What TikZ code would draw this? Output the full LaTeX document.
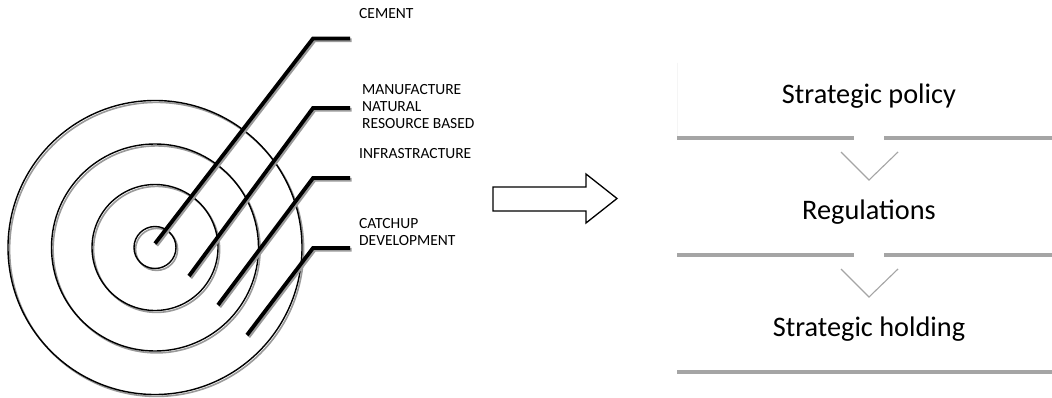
\documentclass[tikz,border=0pt]{standalone}
\usepackage{fontspec}
\setmainfont{Carlito}
\definecolor{rulegray}{HTML}{A5A5A5}
\definecolor{shadowgray}{HTML}{9A9A9A}
\begin{document}
\begin{tikzpicture}[x=1pt,y=-1pt,
  ring/.style={circle, draw=black, line width=1.4pt, inner sep=0pt, minimum size=#1,
    preaction={draw=shadowgray, line width=1.6pt, transform canvas={shift={(1.6pt,-1.9pt)}}}},
  leader/.style={line width=3.8pt, line cap=butt, line join=miter,
    preaction={draw=shadowgray, line width=3.8pt, transform canvas={shift={(1.5pt,-1.8pt)}}}},
  lbl/.style={anchor=base west, inner sep=0pt, align=left, font=\fontsize{15.5}{17.3}\selectfont},
  stagetext/.style={anchor=base, inner sep=0pt, font=\fontsize{28.3}{34}\selectfont},
  rule/.style={draw=rulegray, line width=3.2pt},
  chev/.style={draw=rulegray, line width=1.1pt},
  blockarrow/.style={draw=black, line width=1.3pt, fill=white, line join=miter}]
\useasboundingbox[fill=white] (0,0) rectangle (1052,398);

% rings
\node[ring=294pt] (r4) at (155,247.5) {};
\node[ring=207pt] (r3) at (155,247.5) {};
\node[ring=126pt] (r2) at (155,247.5) {};
\node[ring=42pt]  (r1) at (155,247.5) {};

% leader coordinates
\coordinate (s1) at (155,243.5);
\coordinate (k1) at (313,38.5);
\coordinate (e1) at (350,38.5);
\coordinate (s2) at (189,276);
\coordinate (k2) at (313,108);
\coordinate (e2) at (350,108);
\coordinate (s3) at (218,305);
\coordinate (k3) at (313,178);
\coordinate (e3) at (350,178);
\coordinate (s4) at (247,335);
\coordinate (k4) at (313,248);
\coordinate (e4) at (350,248);

\draw[leader] (s1) -- (k1) -- (e1);
\draw[leader] (s2) -- (k2) -- (e2);
\draw[leader] (s3) -- (k3) -- (e3);
\draw[leader] (s4) -- (k4) -- (e4);

% labels (base = baseline of last line)
\node[lbl] (t1) at (359,19) {CEMENT};
\node[lbl] (t2) at (362,129) {MANUFACTURE\\NATURAL\\RESOURCE BASED};
\node[lbl] (t3) at (359,159) {INFRASTRACTURE};
\node[lbl] (t4) at (359,246) {CATCHUP\\DEVELOPMENT};

% block arrow
\draw[blockarrow] (493,187) -- (586,187) -- (586,174) -- (617,198.5) -- (586,223) -- (586,211) -- (493,211) -- cycle;

% stages
\node[stagetext] (p1) at (869,103.5) {Strategic policy};
\node[stagetext] (p2) at (869,219.5) {Regulations};
\node[stagetext] (p3) at (869,336) {Strategic holding};

\coordinate (b1l) at (677,138);
\coordinate (b1g) at (854,138);
\coordinate (b1h) at (884,138);
\coordinate (b1r) at (1052,138);
\coordinate (b2l) at (677,255);
\coordinate (b2g) at (854,255);
\coordinate (b2h) at (884,255);
\coordinate (b2r) at (1052,255);
\coordinate (b3l) at (677,372);
\coordinate (b3r) at (1052,372);
\coordinate (b1t) at (677,63);

\draw[draw=black!4, line width=0.8pt] (b1t) -- (b1l);
\draw[rule] (b1l) -- (b1g) (b1h) -- (b1r);
\draw[rule] (b2l) -- (b2g) (b2h) -- (b2r);
\draw[rule] (b3l) -- (b3r);

\coordinate (c1a) at (841,152);
\coordinate (c1b) at (869,180);
\coordinate (c1c) at (898,152);
\coordinate (c2a) at (841,269);
\coordinate (c2b) at (869,297);
\coordinate (c2c) at (898,269);
\draw[chev] (c1a) -- (c1b) -- (c1c);
\draw[chev] (c2a) -- (c2b) -- (c2c);
\end{tikzpicture}
\end{document}
